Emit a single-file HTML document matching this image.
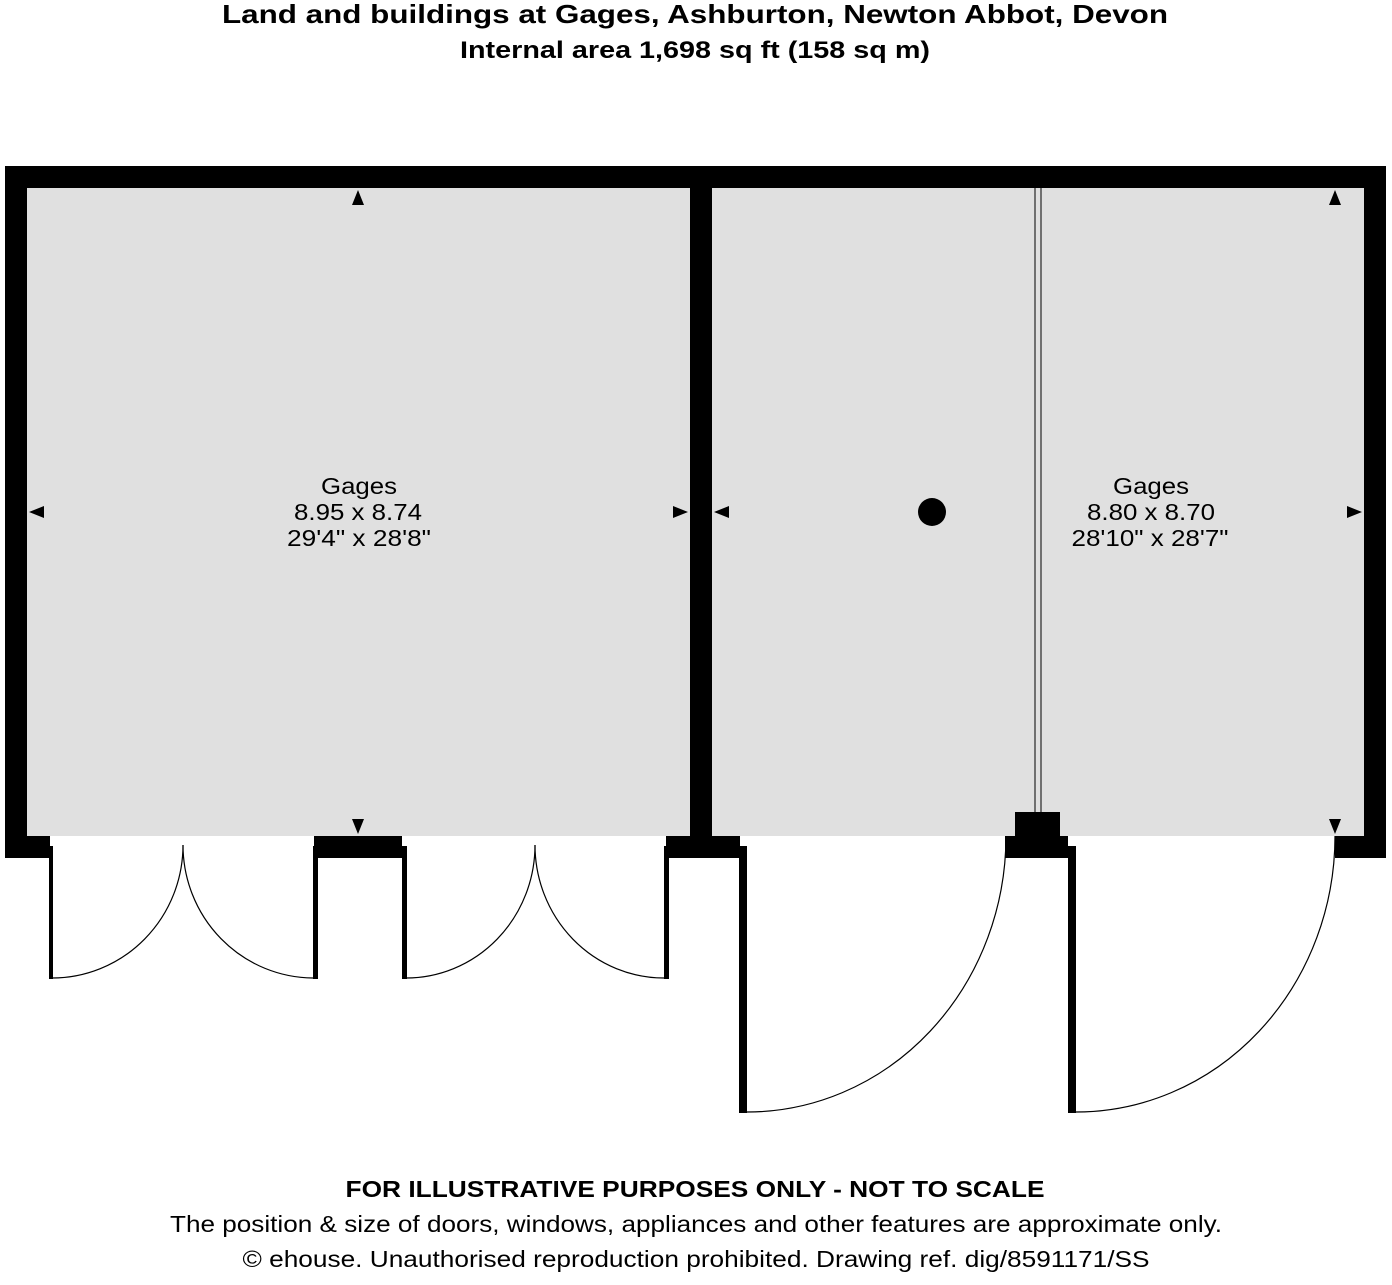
<!DOCTYPE html>
<html><head><style>
body{margin:0;background:#fff;width:1392px;height:1280px;overflow:hidden}
</style></head><body>
<svg width="1392" height="1280" xmlns="http://www.w3.org/2000/svg" font-family="'Liberation Sans', Arial, sans-serif">
<text x="695" y="23" font-size="26" font-weight="bold" text-anchor="middle" textLength="946" lengthAdjust="spacingAndGlyphs">Land and buildings at Gages, Ashburton, Newton Abbot, Devon</text>
<text x="695" y="58" font-size="24" font-weight="bold" text-anchor="middle" textLength="470" lengthAdjust="spacingAndGlyphs">Internal area 1,698 sq ft (158 sq m)</text>
<!-- walls -->
<rect x="5" y="166" width="1381" height="692" fill="#000"/>
<rect x="27" y="188" width="663" height="648" fill="#e0e0e0"/>
<rect x="712" y="188" width="652" height="648" fill="#e0e0e0"/>
<!-- door openings -->
<rect x="50" y="836" width="264" height="23" fill="#fff"/>
<rect x="402" y="836" width="264" height="23" fill="#fff"/>
<rect x="740" y="836" width="265" height="23" fill="#fff"/>
<rect x="1068" y="836" width="267" height="23" fill="#fff"/>
<!-- partition -->
<line x1="1035" y1="188" x2="1035" y2="812" stroke="#000" stroke-width="1"/>
<line x1="1041" y1="188" x2="1041" y2="812" stroke="#000" stroke-width="1"/>
<rect x="1015" y="812" width="45" height="24" fill="#000"/>
<!-- door leaves -->
<rect x="49" y="846" width="4" height="133" fill="#000"/>
<rect x="313" y="846" width="5" height="133" fill="#000"/>
<rect x="402" y="846" width="5" height="133" fill="#000"/>
<rect x="664" y="846" width="5" height="133" fill="#000"/>
<rect x="739" y="846" width="8" height="267" fill="#000"/>
<rect x="1068" y="846" width="8" height="267" fill="#000"/>
<g fill="none" stroke="#000" stroke-width="1.2">
<path d="M52 978 A131 133 0 0 0 183 845"/>
<path d="M313 978 A131 133 0 0 1 183 845"/>
<path d="M406 978 A129 133 0 0 0 535 845"/>
<path d="M664 978 A129 133 0 0 1 535 845"/>
<path d="M747 1112 A259 276 0 0 0 1006 836"/>
<path d="M1076 1112 A259 276 0 0 0 1335 836"/>
</g>
<!-- arrows -->
<g fill="#000">
<polygon points="358,190 352,205 364,205"/>
<polygon points="358,834 352,819 364,819"/>
<polygon points="29,512 44,506 44,518"/>
<polygon points="688,512 673,506 673,518"/>
<polygon points="714,512 729,506 729,518"/>
<polygon points="1362,512 1347,506 1347,518"/>
<polygon points="1335,190 1329,205 1341,205"/>
<polygon points="1335,834 1329,819 1341,819"/>
<circle cx="932" cy="512" r="14"/>
</g>
<g font-size="23" text-anchor="middle">
<text x="359" y="494" textLength="76" lengthAdjust="spacingAndGlyphs">Gages</text>
<text x="358" y="520" textLength="128" lengthAdjust="spacingAndGlyphs">8.95 x 8.74</text>
<text x="359" y="546" textLength="144" lengthAdjust="spacingAndGlyphs">29'4" x 28'8"</text>
<text x="1151" y="494" textLength="76" lengthAdjust="spacingAndGlyphs">Gages</text>
<text x="1151" y="520" textLength="128" lengthAdjust="spacingAndGlyphs">8.80 x 8.70</text>
<text x="1150" y="546" textLength="157" lengthAdjust="spacingAndGlyphs">28'10" x 28'7"</text>
</g>
<text x="695" y="1197" font-size="23" font-weight="bold" text-anchor="middle" textLength="699" lengthAdjust="spacingAndGlyphs">FOR ILLUSTRATIVE PURPOSES ONLY - NOT TO SCALE</text>
<text x="696" y="1232" font-size="23" text-anchor="middle" textLength="1052" lengthAdjust="spacingAndGlyphs">The position &amp; size of doors, windows, appliances and other features are approximate only.</text>
<text x="696" y="1267" font-size="23" text-anchor="middle" textLength="907" lengthAdjust="spacingAndGlyphs">© ehouse. Unauthorised reproduction prohibited. Drawing ref. dig/8591171/SS</text>
</svg>
</body></html>
